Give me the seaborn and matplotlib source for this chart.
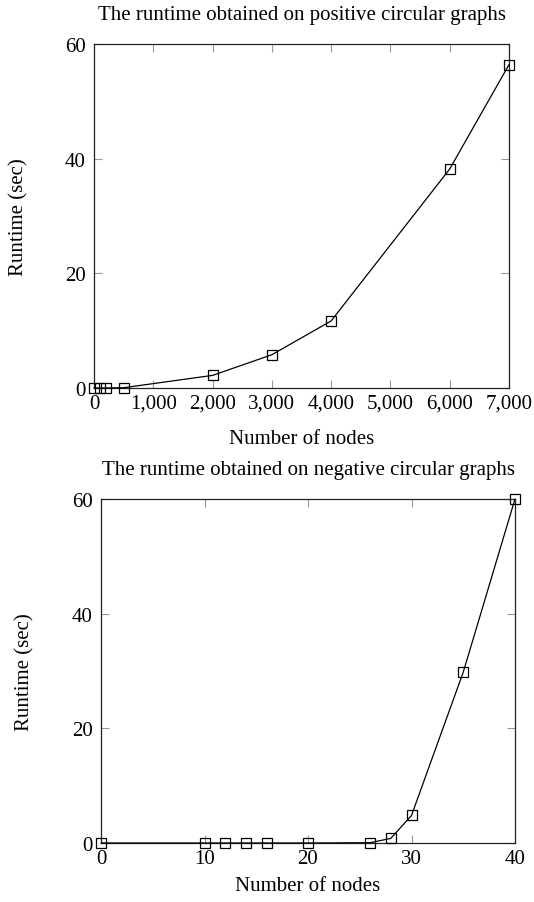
import matplotlib
matplotlib.use("Agg")
import matplotlib.pyplot as plt
import matplotlib.ticker as mticker
import seaborn as sns
import pandas as pd

pos_nodes = [0, 100, 200, 500, 2000, 3000, 4000, 6000, 7000]
pos_runtime = [0.0, 0.0, 0.0, 0.05, 2.2, 5.8, 11.7, 38.2, 56.4]
neg_nodes = [0, 10, 12, 14, 16, 20, 26, 28, 30, 35, 40]
neg_runtime = [0.0, 0.0, 0.0, 0.0, 0.0, 0.0, 0.05, 0.8, 4.8, 29.8, 60.0]

sns.set_theme(style="ticks")
plt.rcParams['font.family'] = ['Liberation Serif', 'DejaVu Serif']
plt.rcParams['text.color'] = 'black'
plt.rcParams['axes.labelcolor'] = 'black'
plt.rcParams['xtick.labelcolor'] = 'black'
plt.rcParams['ytick.labelcolor'] = 'black'

fig = plt.figure(figsize=(5.34, 9.03), dpi=100)
ax1 = fig.add_axes([94 / 534, 1 - 389 / 903, 415 / 534, 344 / 903])
ax2 = fig.add_axes([101 / 534, 1 - 844 / 903, 414 / 534, 344 / 903])

df1 = pd.DataFrame({"nodes": pos_nodes, "runtime": pos_runtime})
df2 = pd.DataFrame({"nodes": neg_nodes, "runtime": neg_runtime})

FS = 15

def draw(ax, df, xlim, xticks, title, fmt, ylab_x, xlab_y):
    sns.lineplot(data=df, x="nodes", y="runtime", ax=ax, color="black",
                 linewidth=0.9, marker="s", markersize=7,
                 markerfacecolor="none", markeredgecolor="black",
                 markeredgewidth=0.9, clip_on=False, zorder=5)
    ax.set_xlim(*xlim)
    ax.set_ylim(0, 60)
    ax.set_xticks(xticks)
    ax.set_yticks([0, 20, 40, 60])
    if fmt:
        ax.xaxis.set_major_formatter(mticker.FuncFormatter(lambda v, p: f"{int(v):,}"))
    ax.tick_params(direction="in", length=6, width=0.8, color="#999999",
                   top=True, right=True, labelsize=FS, labelcolor="black")
    ax.tick_params(axis="y", pad=6)
    ax.tick_params(axis="x", pad=4)
    for s in ax.spines.values():
        s.set_visible(True)
        s.set_linewidth(0.9)
        s.set_color("#222222")
    ax.set_title(title, fontsize=FS, pad=18, color="black")
    ax.set_xlabel("Number of nodes", fontsize=FS, color="black")
    ax.set_ylabel("Runtime (sec)", fontsize=FS, color="black")
    ax.yaxis.set_label_coords(ylab_x, 0.5)
    ax.xaxis.set_label_coords(0.5, xlab_y)
    ax.grid(False)

draw(ax1, df1, (0, 7000), [0, 1000, 2000, 3000, 4000, 5000, 6000, 7000],
     "The runtime obtained on positive circular graphs", True,
     (28 - 94) / 415, (389 - 430) / 344)
draw(ax2, df2, (0, 40), [0, 10, 20, 30, 40],
     "The runtime obtained on negative circular graphs", False,
     (34 - 101) / 414, (844 - 877) / 344)

fig.savefig("out.png", dpi=100)
